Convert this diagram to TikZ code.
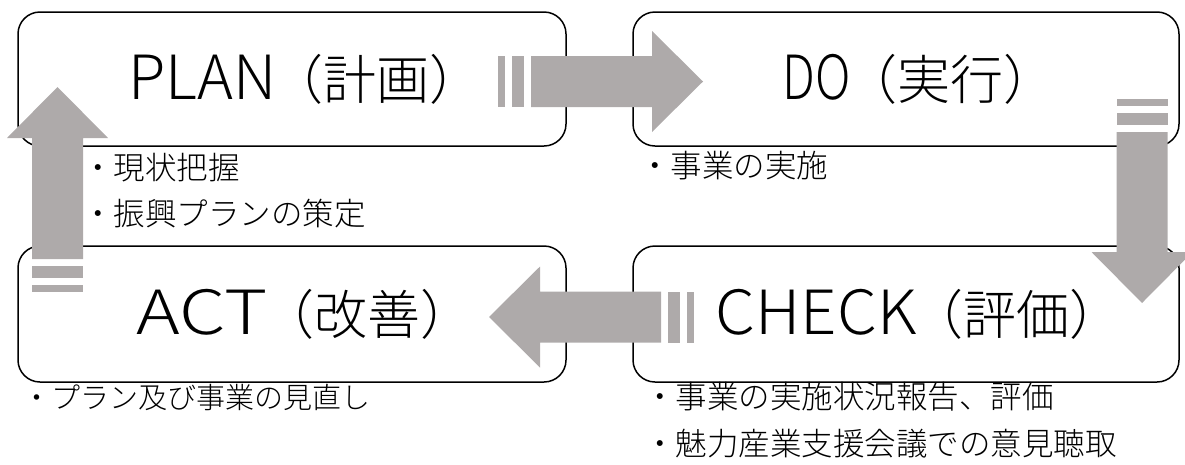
\documentclass[tikz,border=0pt]{standalone}
\usepackage{fontspec}
\setmainfont{Noto Sans CJK JP}
\IfFontExistsTF{Noto Sans CJK JP Light}
  {\newfontfamily\ttlfont{Noto Sans CJK JP Light}}
  {\newfontfamily\ttlfont{Noto Sans CJK JP}}
\usepackage{graphicx}
\definecolor{arrgray}{RGB}{174,170,170}
\tikzset{
  box/.style={draw=black, line width=1.5pt, rounded corners=22pt, inner sep=0pt,
    font=\ttlfont\fontsize{53}{60}\selectfont},
  note/.style={font=\ttlfont\fontsize{31.5}{46}\selectfont, inner sep=0pt, anchor=west},
  arrfill/.style={fill=arrgray, draw=none},
}
% title: horizontal scale of the Latin part, Latin part, Japanese part
\newcommand\ttl[3]{\scalebox{#1}[1.15]{#2}\kern-0.12em（#3）\kern-0.5em}
% block arrow: start coordinate, angle, length
\newcommand\blockarrow[3]{%
  \begin{scope}[shift={(#1)}, rotate=#2]
    \path[arrfill] (0,-25.5) rectangle (7,25.5);
    \path[arrfill] (14,-25.5) rectangle (26,25.5);
    \path[arrfill] (33,-25.5) -- (#3-51,-25.5) -- (#3-51,-50.5) -- (#3,0)
      -- (#3-51,50.5) -- (#3-51,25.5) -- (33,25.5) -- cycle;
  \end{scope}}
\begin{document}
\begin{tikzpicture}[x=1pt,y=-1pt]
\useasboundingbox (0,0) rectangle (1185,464);
% boxes
\node[box, minimum width=548pt, minimum height=134pt] (plan) at (292,79) {\ttl{1.15}{PLAN}{計画}};
\node[box, minimum width=546pt, minimum height=134pt] (do) at (906,79) {\ttl{0.92}{DO}{実行}};
\node[box, minimum width=548pt, minimum height=136pt] (act) at (292,314) {\ttl{1.4}{ACT}{改善}};
\node[box, minimum width=546pt, minimum height=136pt] (check) at (906,314) {\ttl{1.2}{CHECK}{評価}};
% notes
\node[note] (n1) at (82,167.5) {・現状把握};
\node[note] (n2) at (82,214) {・振興プランの策定};
\node[note] (n3) at (639,166) {・事業の実施};
\node[note] (n4) at (644,397) {・事業の実施状況報告、評価};
\node[note] (n5) at (644,444) {・魅力産業支援会議での意見聴取};
\node[note, font=\ttlfont\fontsize{29}{40}\selectfont] (n6) at (22,397) {・プラン及び事業の見直し};
% arrows
\coordinate (a1) at (498,81.5);
\coordinate (a2) at (1142,99);
\coordinate (a3) at (694,317);
\coordinate (a4) at (57.5,292);
\blockarrow{a1}{0}{205}
\blockarrow{a2}{-90}{204}
\blockarrow{a3}{180}{205}
\blockarrow{a4}{90}{205}
\end{tikzpicture}
\end{document}
